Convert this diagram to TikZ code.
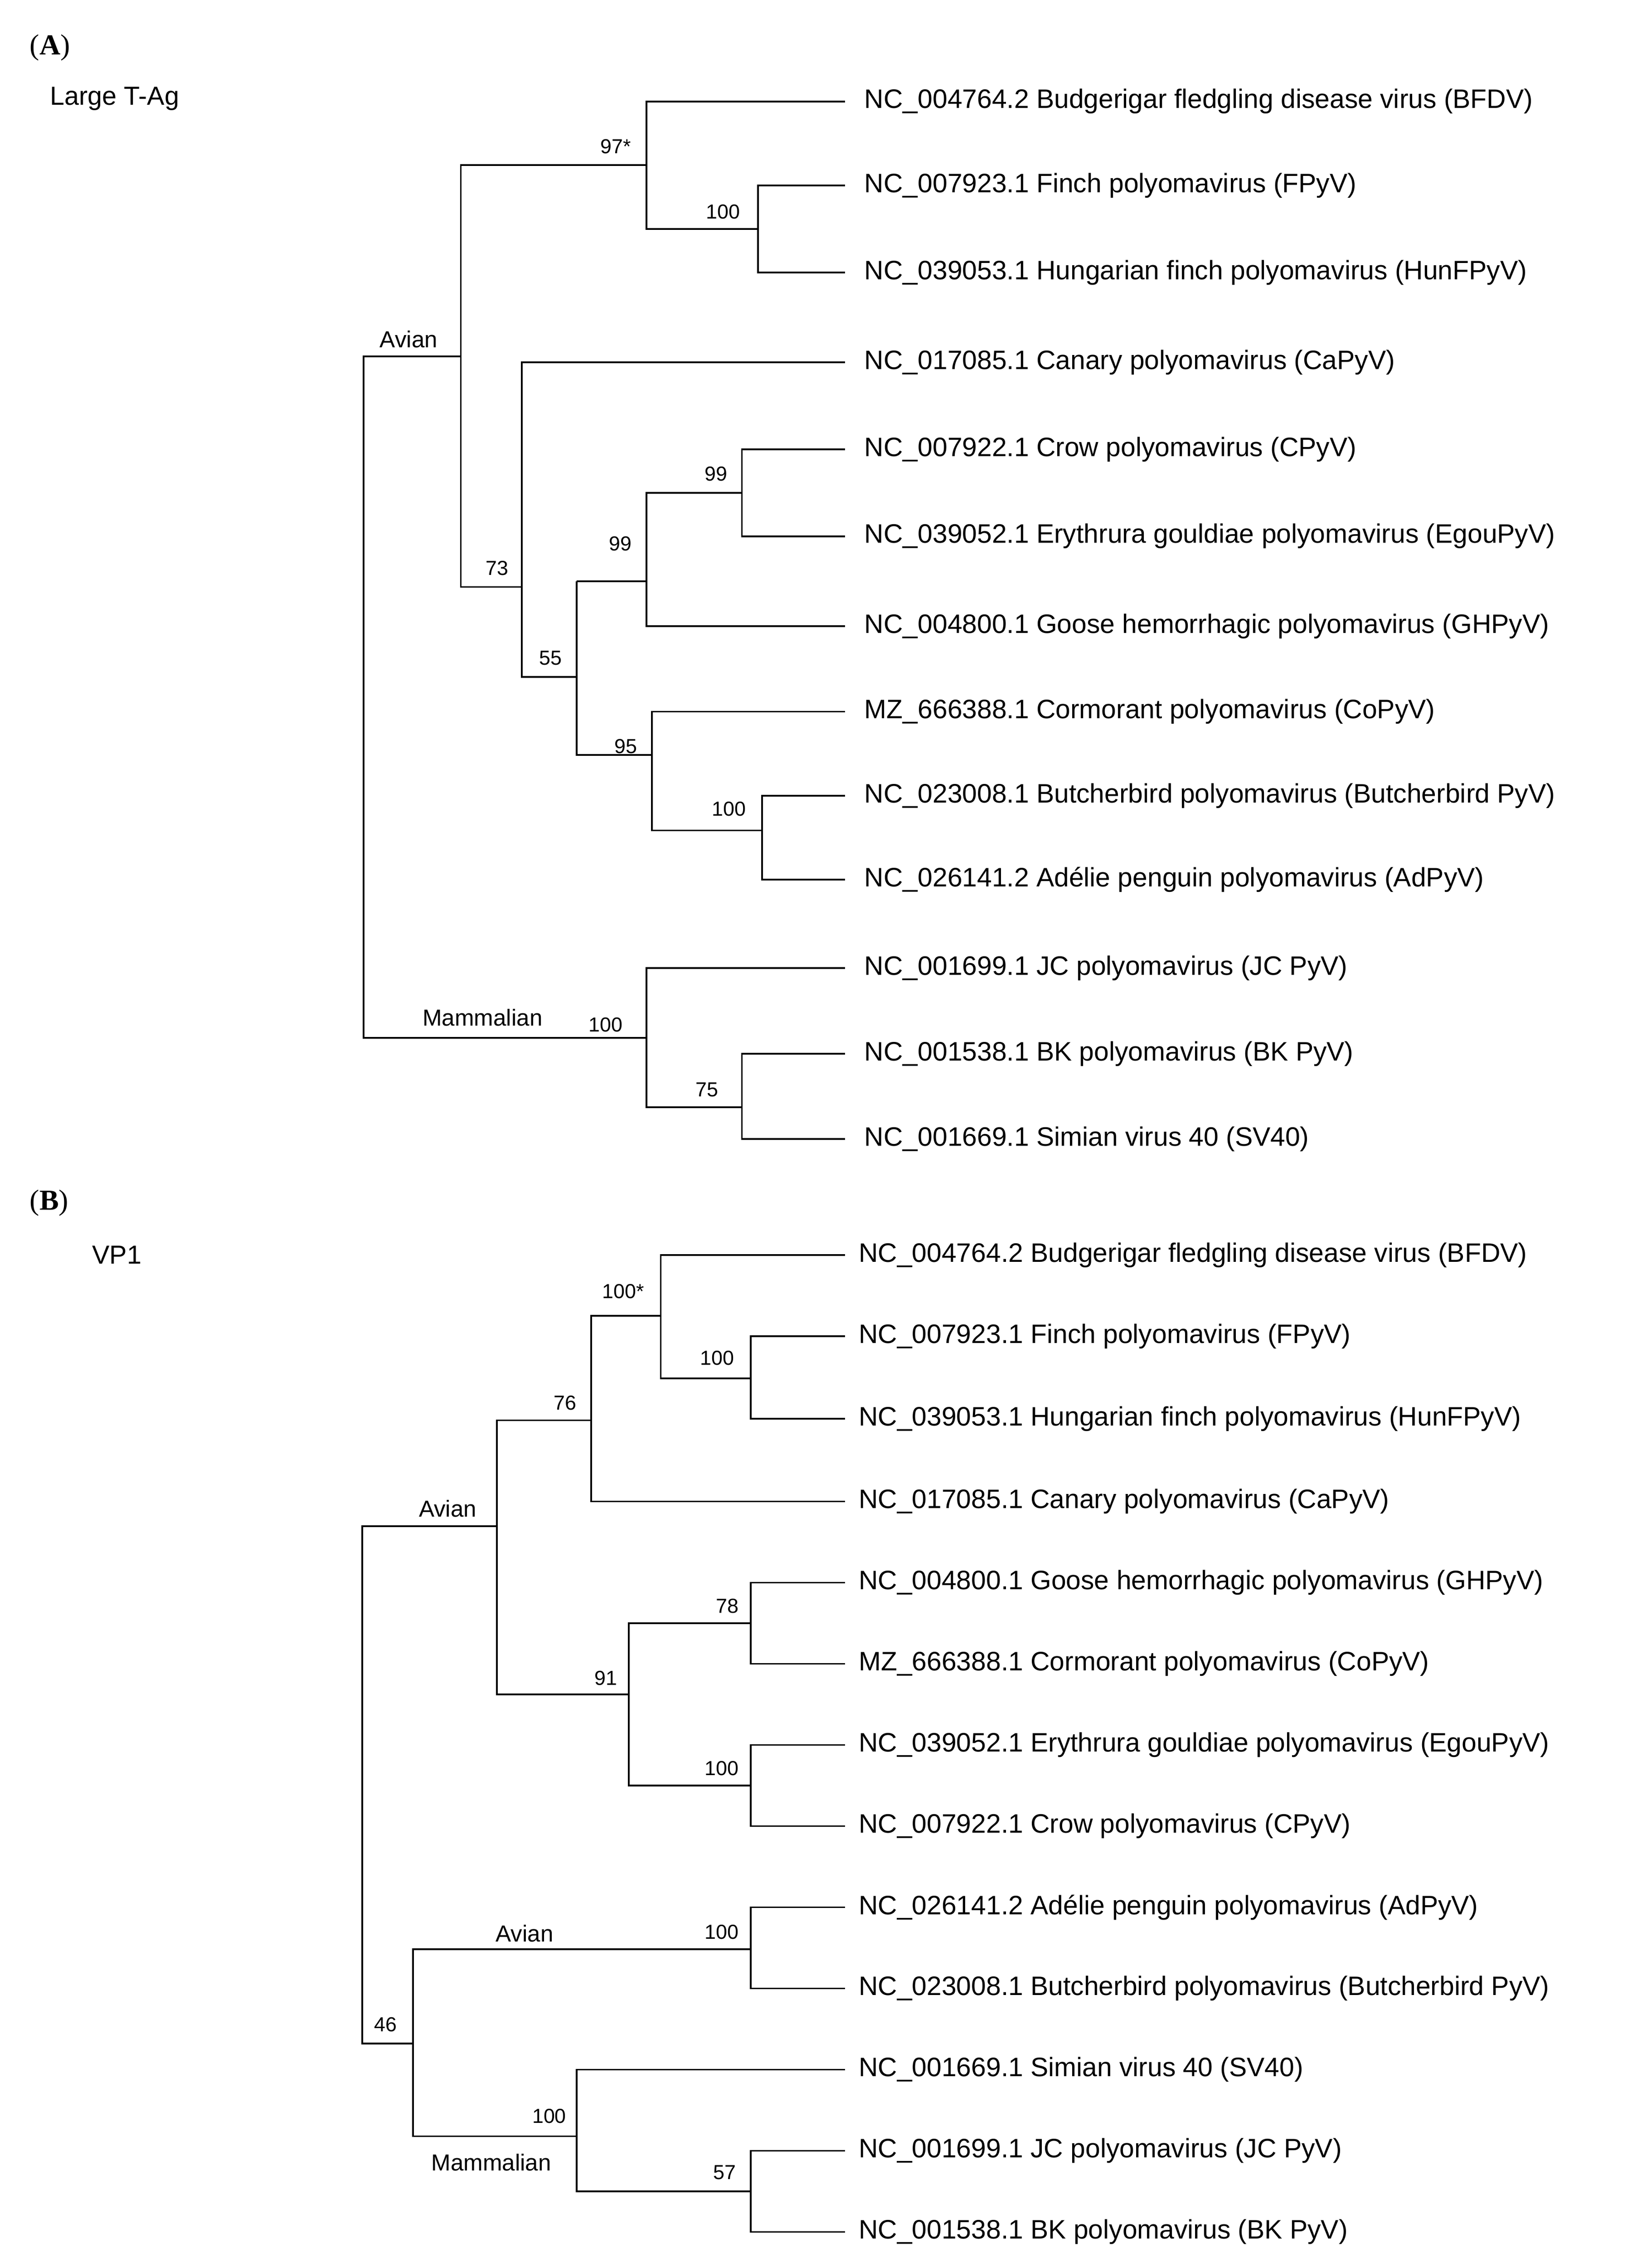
\documentclass[tikz,border=0pt]{standalone}
\usepackage{fontspec}
\setmainfont{Liberation Sans}
\newfontfamily\serifpanel{Liberation Serif}
\begin{document}
\begin{tikzpicture}[x=0.5pt,y=-0.5pt,line width=0.6pt,
  tip/.style={anchor=west,font=\fontsize{9.2}{11}\selectfont,inner sep=0pt},
  bs/.style={font=\fontsize{7}{8}\selectfont,inner sep=0pt},
  hdr/.style={anchor=west,font=\fontsize{9}{11}\selectfont,inner sep=0pt},
  pan/.style={anchor=west,font=\serifpanel\fontsize{10}{12}\selectfont,inner sep=0pt}]
\useasboundingbox (0,0) rectangle (1140,1558);
\node[pan] (pa) at (20,33) {(\textbf{A})};
\node[hdr] (ha) at (34,68) {Large T-Ag};
\node[pan] (pb) at (20,830) {(\textbf{B})};
\node[hdr] (hb) at (63,866) {VP1};
% tips A
\foreach \y/\t in {70/{NC\_004764.2 Budgerigar fledgling disease virus (BFDV)},128/{NC\_007923.1 Finch polyomavirus (FPyV)},188/{NC\_039053.1 Hungarian finch polyomavirus (HunFPyV)},250/{NC\_017085.1 Canary polyomavirus (CaPyV)},310/{NC\_007922.1 Crow polyomavirus (CPyV)},370/{NC\_039052.1 Erythrura gouldiae polyomavirus (EgouPyV)},432/{NC\_004800.1 Goose hemorrhagic polyomavirus (GHPyV)},491/{MZ\_666388.1 Cormorant polyomavirus (CoPyV)},549/{NC\_023008.1 Butcherbird polyomavirus (Butcherbird PyV)},607/{NC\_026141.2 Ad\'elie penguin polyomavirus (AdPyV)},668/{NC\_001699.1 JC polyomavirus (JC PyV)},727/{NC\_001538.1 BK polyomavirus (BK PyV)},786/{NC\_001669.1 Simian virus 40 (SV40)}}
  \node[tip] at (596,\y) {\t};
% tips B
\foreach \y/\t in {866/{NC\_004764.2 Budgerigar fledgling disease virus (BFDV)},922/{NC\_007923.1 Finch polyomavirus (FPyV)},979/{NC\_039053.1 Hungarian finch polyomavirus (HunFPyV)},1036/{NC\_017085.1 Canary polyomavirus (CaPyV)},1092/{NC\_004800.1 Goose hemorrhagic polyomavirus (GHPyV)},1148/{MZ\_666388.1 Cormorant polyomavirus (CoPyV)},1204/{NC\_039052.1 Erythrura gouldiae polyomavirus (EgouPyV)},1260/{NC\_007922.1 Crow polyomavirus (CPyV)},1316/{NC\_026141.2 Ad\'elie penguin polyomavirus (AdPyV)},1372/{NC\_023008.1 Butcherbird polyomavirus (Butcherbird PyV)},1428/{NC\_001669.1 Simian virus 40 (SV40)},1484/{NC\_001699.1 JC polyomavirus (JC PyV)},1540/{NC\_001538.1 BK polyomavirus (BK PyV)}}
  \node[tip] at (592,\y) {\t};
% tree A
\draw (583,70) -| (446,158) -- (523,158);
\draw (583,128) -| (523,188) -- (583,188);
\draw (446,114) -| (318,405) -- (360,405);
\draw (583,250) -| (360,467) -- (398,467);
\draw (512,340) |- (583,310); \draw (512,340) |- (583,370);
\draw (446,401) |- (512,340); \draw (446,401) |- (583,432);
\draw (398,401) -- (446,401); \draw (398,401) -- (398,521) -- (450,521);
\draw (583,491) -| (450,573) -- (526,573);
\draw (583,549) -| (526,607) -- (583,607);
\draw (318,246) -| (251,716) -- (446,716);
\draw (583,668) -| (446,764) -- (512,764);
\draw (583,727) -| (512,786) -- (583,786);
\node[bs] at (425,101) {97*}; \node[bs] at (499,146) {100};
\node[bs] at (343,392) {73}; \node[bs] at (380,454) {55};
\node[bs] at (428,375) {99}; \node[bs] at (494,327) {99};
\node[bs] at (432,515) {95}; \node[bs] at (503,558) {100};
\node[bs,font=\fontsize{8}{9}\selectfont] at (282,234) {Avian};
\node[bs,font=\fontsize{8}{9}\selectfont] at (333,702) {Mammalian};
\node[bs] at (418,707) {100}; \node[bs] at (488,752) {75};
% tree B
\draw (583,866) -| (456,951) -- (518,951);
\draw (583,922) -| (518,979) -- (583,979);
\draw (456,908) -| (408,1036) -- (583,1036);
\draw (408,980) -| (343,1169) -- (434,1169);
\draw (518,1120) -| (434,1232) -- (518,1232);
\draw (583,1092) -| (518,1148) -- (583,1148);
\draw (583,1204) -| (518,1260) -- (583,1260);
\draw (343,1053) -| (250,1410) -- (285,1410);
\draw (518,1345) -| (285,1474) -- (398,1474);
\draw (583,1316) -| (518,1372) -- (583,1372);
\draw (583,1428) -| (398,1512) -- (518,1512);
\draw (583,1484) -| (518,1540) -- (583,1540);
\node[bs] at (430,891) {100*}; \node[bs] at (495,937) {100};
\node[bs] at (390,968) {76}; \node[bs] at (418,1158) {91};
\node[bs] at (502,1108) {78}; \node[bs] at (498,1220) {100};
\node[bs,font=\fontsize{8}{9}\selectfont] at (309,1041) {Avian};
\node[bs,font=\fontsize{8}{9}\selectfont] at (362,1334) {Avian};
\node[bs] at (498,1333) {100}; \node[bs] at (266,1397) {46};
\node[bs] at (379,1460) {100};
\node[bs,font=\fontsize{8}{9}\selectfont] at (339,1492) {Mammalian};
\node[bs] at (500,1499) {57};
\end{tikzpicture}
\end{document}
